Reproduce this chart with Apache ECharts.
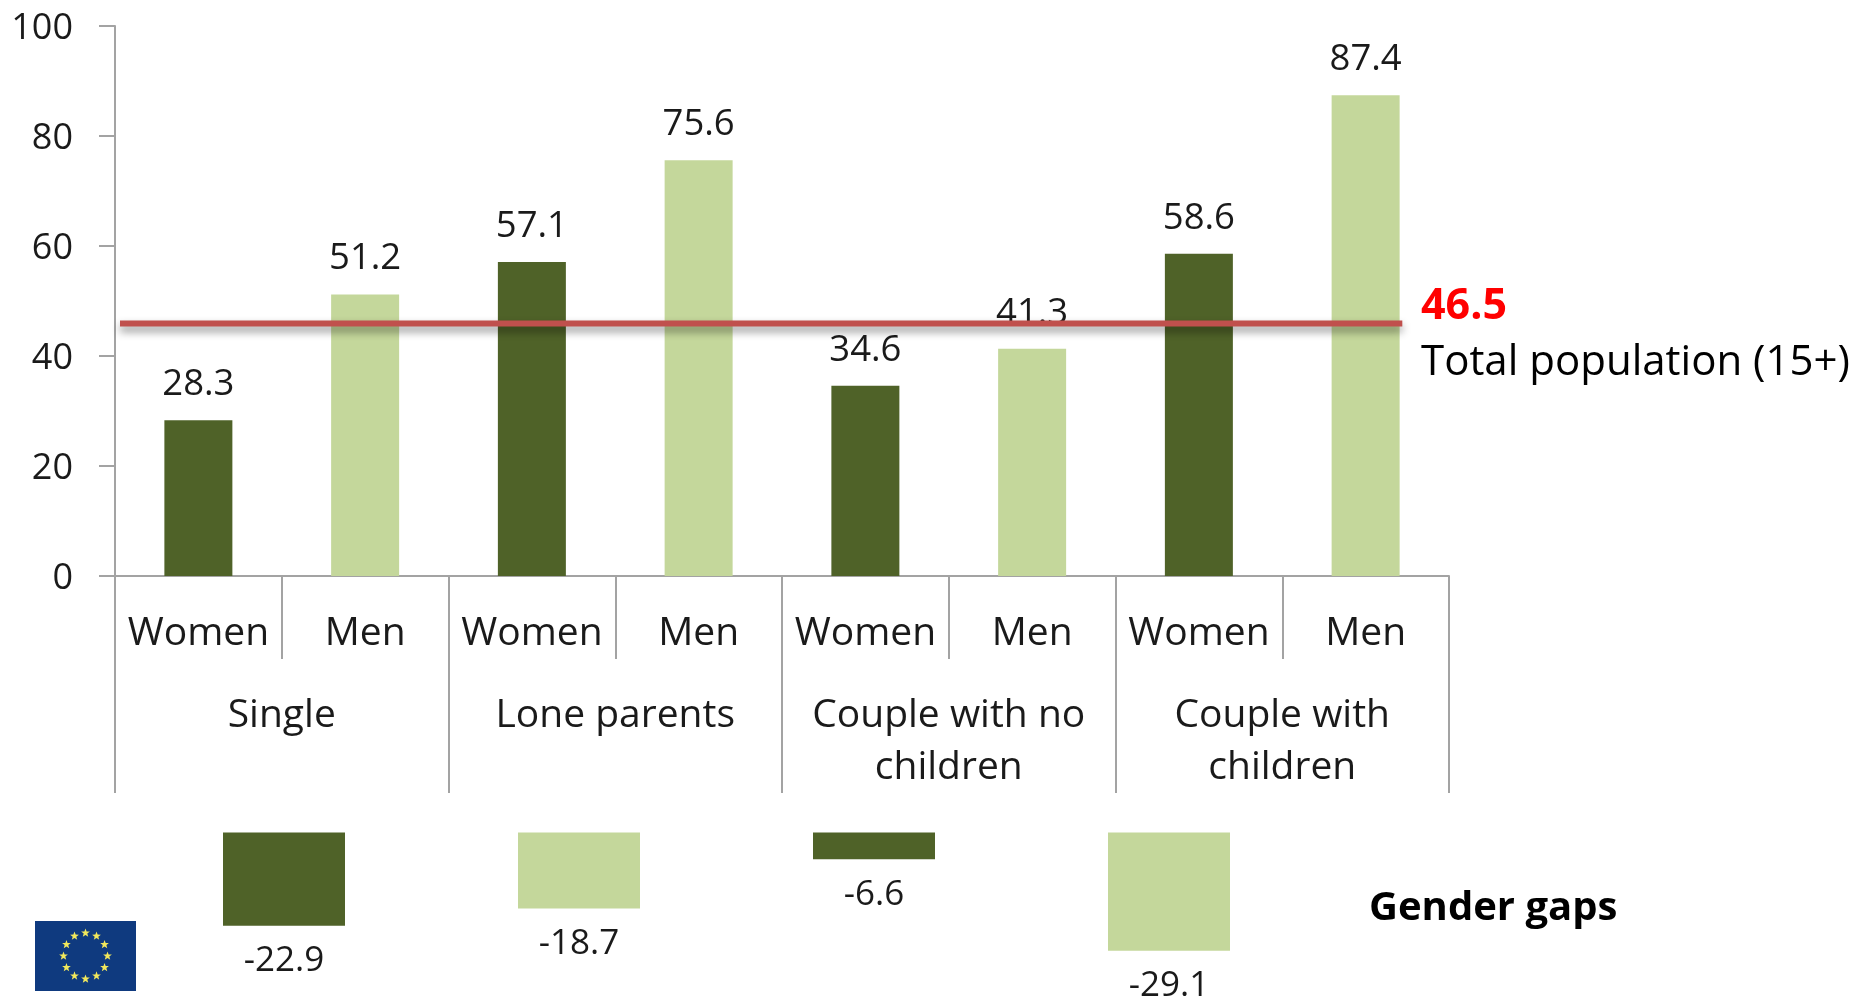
<!DOCTYPE html>
<html>
<head>
<meta charset="utf-8">
<style>html,body{margin:0;padding:0;background:#fff}#c{width:1858px;height:998px}</style>
<script src="https://cdn.jsdelivr.net/npm/echarts@6/dist/echarts.min.js"></script>
</head>
<body>
<div id="c"></div>
<script>
const sexCategories = ['Women','Men','Women','Men','Women','Men','Women','Men'];
const groupCategories = ['Single','Lone parents','Couple with no\nchildren','Couple with\nchildren'];
const employmentValues = [28.3,51.2,57.1,75.6,34.6,41.3,58.6,87.4];
const gapValues = [-22.9,-18.7,-6.6,-29.1];
const yTicksInterval = 20;
const totalLabel = '46.5';
const totalCaption = 'Total population (15+)';
const totalLineLevel = 45.9;
const totalLineSpan = [0.03,7.72];
const gapsTitle = 'Gender gaps';

const DARK='#4f6228', LIGHT='#c4d79b', AXIS='#a3a3a3', FONT='"Open Sans",sans-serif', TXT='#1a1a1a';
const colorFor = i => i%2===0 ? DARK : LIGHT;

// EU flag decoration
const flag = [{type:'rect',shape:{x:35,y:921,width:101,height:70},style:{fill:'#0f3a7f'},silent:true}];
for(let k=0;k<12;k++){
  const a=k*Math.PI/6, cx=85.5+22*Math.sin(a), cy=956-23*Math.cos(a), pts=[];
  for(let j=0;j<10;j++){
    const r=j%2?1.9:4.6, b=j*Math.PI/5;
    pts.push([cx+r*Math.sin(b),cy-r*Math.cos(b)]);
  }
  flag.push({type:'polygon',shape:{points:pts},style:{fill:'#f2e85c'},silent:true});
}

const chart = echarts.init(document.getElementById('c'),null,{renderer:'canvas'});
chart.setOption({
  animation:false,
  backgroundColor:'#fff',
  grid:[
    {left:115,top:26,width:1334,height:550},
    {left:136.5,top:832.5,width:1180,height:122}
  ],
  xAxis:[
    {type:'category',gridIndex:0,position:'bottom',data:sexCategories,
      axisLine:{show:true,lineStyle:{color:AXIS,width:2}},
      axisTick:{show:true,length:83,lineStyle:{color:AXIS,width:2}},
      axisLabel:{interval:0,margin:35,fontFamily:FONT,fontSize:39,lineHeight:46,color:TXT}},
    {type:'category',gridIndex:0,position:'bottom',data:groupCategories,
      axisLine:{show:false},
      axisTick:{show:true,length:217,lineStyle:{color:AXIS,width:2}},
      axisLabel:{interval:0,margin:114,fontFamily:FONT,fontSize:39,lineHeight:52,color:TXT}},
    {type:'value',gridIndex:0,min:0,max:8,show:false},
    {type:'category',gridIndex:1,data:groupCategories,show:false}
  ],
  yAxis:[
    {type:'value',gridIndex:0,min:0,max:100,interval:yTicksInterval,
      axisLine:{show:true,lineStyle:{color:AXIS,width:2}},
      axisTick:{show:true,length:16,lineStyle:{color:AXIS,width:2}},
      splitLine:{show:false},
      axisLabel:{margin:42,fontFamily:FONT,fontSize:36,color:TXT,verticalAlign:'top',padding:[-15.5,0,0,0]}},
    {type:'value',gridIndex:1,min:-30,max:0,show:false}
  ],
  series:[
    {type:'bar',xAxisIndex:0,yAxisIndex:0,barWidth:68,z:2,
      data:employmentValues.map((v,i)=>({value:v,itemStyle:{color:colorFor(i)}})),
      label:{show:true,position:'top',distance:17,fontFamily:FONT,fontSize:36.5,color:TXT,
        formatter:p=>p.value.toFixed(1)}},
    {type:'line',xAxisIndex:2,yAxisIndex:0,z:5,symbol:'none',
      data:totalLineSpan.map(x=>[x,totalLineLevel]),
      lineStyle:{color:'#c0504d',width:6,cap:'butt',shadowColor:'rgba(0,0,0,0.45)',shadowBlur:8,shadowOffsetY:5}},
    {type:'bar',xAxisIndex:3,yAxisIndex:1,barWidth:122,z:2,
      data:gapValues.map((v,i)=>({value:v,itemStyle:{color:colorFor(i)}})),
      label:{show:true,position:'bottom',distance:18,fontFamily:FONT,fontSize:35,color:TXT,
        formatter:p=>p.value.toFixed(1)}}
  ],
  graphic:[
    {type:'text',left:1421,top:285,silent:true,style:{text:totalLabel,fontFamily:FONT,fontWeight:'bold',fontSize:43,fill:'#ff0000'}},
    {type:'text',left:1421,top:342,silent:true,style:{text:totalCaption,fontFamily:FONT,fontSize:42,fill:'#000'}},
    {type:'text',left:1369,top:889,silent:true,style:{text:gapsTitle,fontFamily:FONT,fontWeight:'bold',fontSize:40,fill:'#000'}},
    ...flag
  ]
});
</script>
</body>
</html>
